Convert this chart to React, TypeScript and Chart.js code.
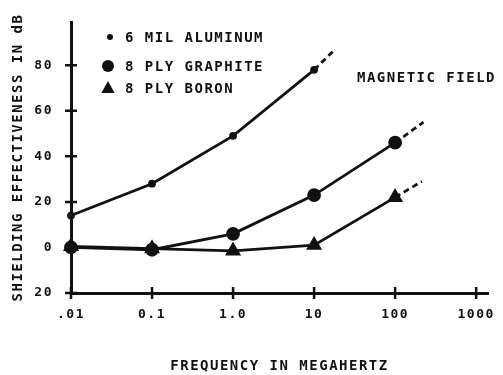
import React, { useEffect, useRef } from "react";
import { Chart, registerables } from "chart.js";

Chart.register(...registerables);

// ---- data ----
const frequencies = [0.01, 0.1, 1, 10, 100];
const aluminumFreq = [0.01, 0.1, 1, 10];
const aluminum = [14, 28, 49, 78];
const graphite = [0, -1, 6, 23, 46];
const boron = [0.5, -0.5, -1.5, 1, 22];

// dashed extrapolations beyond the last measured point
const aluminumTrendFreq = [10, 17];
const aluminumTrend = [78, 86];
const graphiteTrendFreq = [100, 224];
const graphiteTrend = [46, 55];
const boronTrendFreq = [100, 214];
const boronTrend = [22, 29];

const seriesLabels = ["6 MIL ALUMINUM", "8 PLY GRAPHITE", "8 PLY BORON"];
const xTickValues = [0.01, 0.1, 1, 10, 100, 1000];
const xTickLabels = [".01", "0.1", "1.0", "10", "100", "1000"];
const yTickValues = [-20, 0, 20, 40, 60, 80];
const yTickLabels = ["20", "0", "20", "40", "60", "80"];
const annotationText = "MAGNETIC FIELD";
const xTitle = "FREQUENCY IN MEGAHERTZ";
const yTitle = "SHIELDING EFFECTIVENESS IN dB";

const FONT = "'DejaVu Sans Mono', 'Liberation Mono', monospace";
const INK = "#111";
const SPACING = "1.5px";

const toPts = (xs: number[], ys: number[]) => xs.map((x, i) => ({ x, y: ys[i] }));

const spacingPlugin = {
  id: "spacing",
  beforeLayout(chart: any) {
    chart.ctx.letterSpacing = SPACING;
  },
  beforeDraw(chart: any) {
    chart.ctx.letterSpacing = SPACING;
  },
};

const crossTicksPlugin = {
  id: "crossTicks",
  afterDraw(chart: any) {
    const { ctx, chartArea, scales } = chart;
    const len = 6;
    ctx.save();
    ctx.strokeStyle = INK;
    ctx.lineWidth = 2.5;
    ctx.beginPath();
    xTickValues.forEach((v) => {
      const px = scales.x.getPixelForValue(v);
      ctx.moveTo(px, chartArea.bottom - len);
      ctx.lineTo(px, chartArea.bottom + len);
    });
    yTickValues.forEach((v) => {
      const py = scales.y.getPixelForValue(v);
      ctx.moveTo(chartArea.left - len, py);
      ctx.lineTo(chartArea.left + len, py);
    });
    ctx.stroke();
    ctx.restore();
  },
};

const drawMarker = (ctx: any, style: string, x: number, y: number, r: number) => {
  ctx.beginPath();
  if (style === "triangle") {
    ctx.moveTo(x, y - r);
    ctx.lineTo(x + r * 0.95, y + r * 0.7);
    ctx.lineTo(x - r * 0.95, y + r * 0.7);
    ctx.closePath();
  } else {
    ctx.arc(x, y, r, 0, Math.PI * 2);
  }
  ctx.fill();
};

const legendPlugin = {
  id: "insideLegend",
  afterDraw(chart: any) {
    const { ctx, chartArea } = chart;
    const rows = [15, 44, 66];
    const styles = ["circle", "circle", "triangle"];
    const radii = [3, 6, 7];
    const symX = [39, 37, 37];
    ctx.save();
    ctx.fillStyle = INK;
    ctx.font = `bold 14px ${FONT}`;
    ctx.letterSpacing = SPACING;
    ctx.textBaseline = "middle";
    ctx.textAlign = "left";
    seriesLabels.forEach((label, i) => {
      const y = chartArea.top + rows[i];
      drawMarker(ctx, styles[i], chartArea.left + symX[i], y, radii[i]);
      ctx.fillText(label, chartArea.left + 54, y + 1);
    });
    ctx.fillText(annotationText, chartArea.right - 131, chartArea.top + 56);
    ctx.restore();
  },
};

export default function App() {
  const ref = useRef<HTMLCanvasElement | null>(null);

  useEffect(() => {
    if (!ref.current) return;
    const line = {
      borderColor: INK,
      backgroundColor: INK,
      pointBackgroundColor: INK,
      pointBorderColor: INK,
      borderWidth: 2.8,
      tension: 0,
      clip: false as const,
    };
    const dashed = {
      ...line,
      borderDash: [6, 4],
      pointRadius: 0,
    };
    const chart = new Chart(ref.current, {
      type: "line",
      data: {
        datasets: [
          { ...line, label: seriesLabels[0], data: toPts(aluminumFreq, aluminum), pointRadius: 2.5, pointStyle: "circle" },
          { ...line, label: seriesLabels[1], data: toPts(frequencies, graphite), pointRadius: 5.5, pointStyle: "circle" },
          { ...line, label: seriesLabels[2], data: toPts(frequencies, boron), pointRadius: 6.5, pointStyle: "triangle" },
          { ...dashed, label: "", data: toPts(aluminumTrendFreq, aluminumTrend) },
          { ...dashed, label: "", data: toPts(graphiteTrendFreq, graphiteTrend) },
          { ...dashed, label: "", data: toPts(boronTrendFreq, boronTrend) },
        ] as any,
      },
      options: {
        animation: false,
        responsive: true,
        maintainAspectRatio: false,
        layout: { padding: { top: 22, right: 15, left: 0, bottom: 0 } },
        plugins: {
          legend: { display: false },
          tooltip: { enabled: false },
        },
        scales: {
          x: {
            type: "logarithmic",
            min: 0.01,
            max: 1400,
            afterBuildTicks: (scale: any) => {
              scale.ticks = xTickValues.map((v) => ({ value: v }));
            },
            afterFit: (scale: any) => {
              scale.height = 82;
              scale.paddingLeft = 0;
              scale.paddingRight = 0;
            },
            grid: { display: true, drawOnChartArea: false, drawTicks: false },
            border: { display: true, color: INK, width: 3 },
            ticks: {
              color: INK,
              padding: 14,
              maxRotation: 0,
              autoSkip: false,
              font: { family: FONT, size: 13, weight: "bold" },
              callback: (v: any) => {
                const i = xTickValues.findIndex((t) => Math.abs(t - Number(v)) < 1e-9 * Math.max(1, t));
                return i >= 0 ? xTickLabels[i] : "";
              },
            },
            title: {
              display: true,
              text: xTitle,
              color: INK,
              padding: { top: 0, bottom: 0 },
              font: { family: FONT, size: 14, weight: "bold" },
            },
          },
          y: {
            type: "linear",
            min: -20,
            max: 99,
            afterBuildTicks: (scale: any) => {
              scale.ticks = yTickValues.map((v) => ({ value: v }));
            },
            afterFit: (scale: any) => {
              scale.width = 71;
              scale.paddingTop = 0;
              scale.paddingBottom = 0;
            },
            grid: { display: true, drawOnChartArea: false, drawTicks: false },
            border: { display: true, color: INK, width: 3 },
            ticks: {
              color: INK,
              padding: 18,
              autoSkip: false,
              font: { family: FONT, size: 13, weight: "bold" },
              callback: (v: any) => {
                const i = yTickValues.indexOf(Number(v));
                return i >= 0 ? yTickLabels[i] : "";
              },
            },
            title: {
              display: true,
              text: yTitle,
              color: INK,
              padding: { top: 10, bottom: 0 },
              font: { family: FONT, size: 14, weight: "bold" },
            },
          },
        },
      } as any,
      plugins: [spacingPlugin, crossTicksPlugin, legendPlugin],
    });
    return () => chart.destroy();
  }, []);

  return (
    <div style={{ position: "absolute", left: 0, top: 0, width: 503, height: 375, background: "#fff" }}>
      <canvas ref={ref} />
    </div>
  );
}
